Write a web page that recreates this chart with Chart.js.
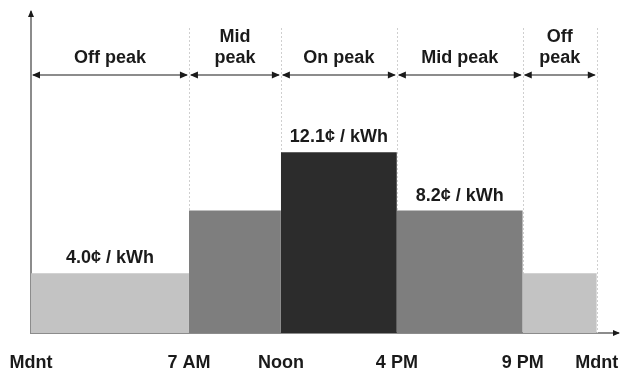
<!DOCTYPE html>
<html>
<head>
<meta charset="utf-8">
<script src="https://cdn.jsdelivr.net/npm/chart.js@4.4.1/dist/chart.umd.min.js"></script>
<style>
  html, body { margin: 0; padding: 0; background: #fff; }
</style>
</head>
<body>
<canvas id="touChart" width="621" height="371"></canvas>
<script>
// time-of-use periods, left to right
const periodLines = [['Off peak'], ['Mid', 'peak'], ['On peak'], ['Mid peak'], ['Off', 'peak']];
const priceCents = [4.0, 8.2, 12.1, 8.2, 4.0];
const priceLabels = ['4.0¢ / kWh', null, '12.1¢ / kWh', '8.2¢ / kWh', null];
// period boundaries, as placed along the (schematic) time axis
const edges = [0, 6.7, 10.6, 15.52, 20.86, 24];
const tickLabels = ['Mdnt', '7 AM', 'Noon', '4 PM', '9 PM', 'Mdnt'];
const blockColors = ['#c3c3c3', '#7e7e7e', '#2c2c2c', '#7e7e7e', '#c3c3c3'];

const FONT = 'bold 18px "Liberation Sans", Arial, sans-serif';
const TEXT = '#1a1a1a';
const AXIS = '#8c8c8c';

function arrowHead(ctx, x, y, dir, len = 8, half = 3.5) {
    // dir: 1 = points right, -1 = points left
    ctx.beginPath();
    ctx.moveTo(x, y);
    ctx.lineTo(x - dir * len, y - half);
    ctx.lineTo(x - dir * len, y + half);
    ctx.closePath();
    ctx.fill();
}

const decorPlugin = {
    id: 'decor',
    beforeDatasetsDraw(chart) {
        const ctx = chart.ctx;
        const xs = chart.scales.x;
        const area = chart.chartArea;
        // dotted boundary lines
        ctx.save();
        ctx.strokeStyle = '#cfcfcf';
        ctx.lineWidth = 1;
        ctx.setLineDash([2, 2]);
        for (let i = 1; i < edges.length; i++) {
            let px = Math.round(xs.getPixelForValue(edges[i])) + 0.5;
            ctx.beginPath();
            ctx.moveTo(px, 28);
            ctx.lineTo(px, area.bottom);
            ctx.stroke();
        }
        ctx.restore();
    },
    afterDatasetsDraw(chart) {
        const ctx = chart.ctx;
        const xs = chart.scales.x;
        const ys = chart.scales.y;
        const area = chart.chartArea;
        ctx.save();

        // period arrows and names
        const arrowY = 75;
        for (let i = 0; i < priceCents.length; i++) {
            let x0 = xs.getPixelForValue(edges[i]);
            let x1 = xs.getPixelForValue(edges[i + 1]);
            ctx.strokeStyle = AXIS;
            ctx.lineWidth = 2;
            ctx.beginPath();
            ctx.moveTo(x0 + 2, arrowY);
            ctx.lineTo(x1 - 2, arrowY);
            ctx.stroke();
            ctx.fillStyle = '#1a1a1a';
            arrowHead(ctx, x0 + 1, arrowY, -1);
            arrowHead(ctx, x1 - 1, arrowY, 1);

            ctx.fillStyle = TEXT;
            ctx.font = FONT;
            ctx.textAlign = 'center';
            ctx.textBaseline = 'alphabetic';
            let lines = periodLines[i];
            let cx = (x0 + x1) / 2;
            for (let j = 0; j < lines.length; j++) {
                let baseY = 63 - (lines.length - 1 - j) * 21;
                ctx.fillText(lines[j], cx, baseY);
            }

            // price label above the block
            if (priceLabels[i]) {
                let topY = ys.getPixelForValue(priceCents[i]);
                ctx.fillText(priceLabels[i], cx, topY - 10);
            }
        }

        // axis arrow tips
        ctx.fillStyle = '#1a1a1a';
        ctx.beginPath();
        ctx.moveTo(area.left, area.top - 2);
        ctx.lineTo(area.left - 3, area.top + 5);
        ctx.lineTo(area.left + 3, area.top + 5);
        ctx.closePath();
        ctx.fill();
        ctx.beginPath();
        ctx.moveTo(area.right + 2, area.bottom);
        ctx.lineTo(area.right - 5, area.bottom - 3);
        ctx.lineTo(area.right - 5, area.bottom + 3);
        ctx.closePath();
        ctx.fill();
        ctx.restore();
    }
};

let datasets = priceCents.map((v, i) => ({
    type: 'line',
    data: [{ x: edges[i], y: v }, { x: edges[i + 1], y: v }],
    fill: 'origin',
    backgroundColor: blockColors[i],
    borderWidth: 0,
    pointRadius: 0
}));

let ctx = document.getElementById('touChart').getContext('2d');
new Chart(ctx, {
    type: 'line',
    data: { datasets: datasets },
    options: {
        responsive: false,
        animation: false,
        devicePixelRatio: 1,
        layout: { padding: { top: 12, right: 3, left: 0, bottom: 0 } },
        plugins: {
            legend: { display: false },
            tooltip: { enabled: false }
        },
        scales: {
            x: {
                type: 'linear',
                min: 0,
                max: 24.9,
                afterBuildTicks: (scale) => {
                    scale.ticks = edges.map(v => ({ value: v }));
                },
                afterFit: (scale) => {
                    scale.height = 38;
                    scale.paddingLeft = 0;
                    scale.paddingRight = 0;
                },
                ticks: {
                    autoSkip: false,
                    maxRotation: 0,
                    padding: 11,
                    color: TEXT,
                    font: { family: '"Liberation Sans", Arial, sans-serif', size: 18, weight: 'bold' },
                    callback: (value, index) => tickLabels[index]
                },
                grid: { display: false },
                border: { display: true, color: AXIS, width: 2 }
            },
            y: {
                min: 0,
                max: 21.5,
                afterFit: (scale) => {
                    scale.width = 31;
                    scale.paddingTop = 0;
                    scale.paddingBottom = 0;
                },
                ticks: { display: false },
                grid: { display: false },
                border: { display: true, color: AXIS, width: 2 }
            }
        }
    },
    plugins: [decorPlugin]
});
</script>
</body>
</html>
